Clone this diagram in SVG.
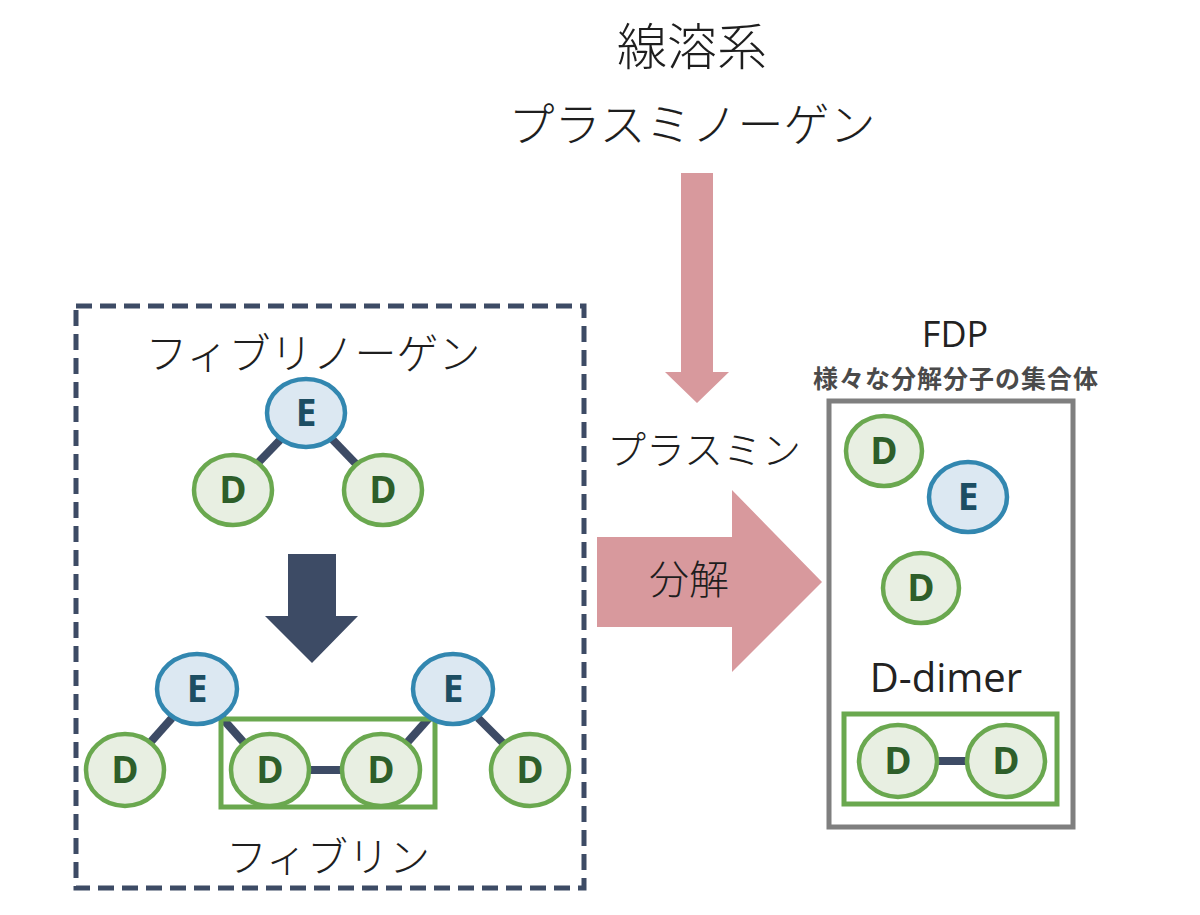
<svg xmlns="http://www.w3.org/2000/svg" width="1200" height="915" viewBox="0 0 1200 915">
<defs>
<style>
.jp{font-family:"Noto Sans CJK JP","Noto Sans",sans-serif;font-weight:300;fill:#1e1e1e;text-anchor:middle;}
.lat{font-family:"Open Sans","Noto Sans",sans-serif;fill:#222;text-anchor:middle;}
.dn ellipse{fill:#e8efe2;stroke:#6aa84f;stroke-width:4.5;}
.en ellipse{fill:#dce8f2;stroke:#3287b0;stroke-width:4.5;}
.dn text{font-family:"Open Sans","Noto Sans",sans-serif;font-weight:bold;font-size:37px;fill:#2e5e2a;text-anchor:middle;}
.en text{font-family:"Open Sans","Noto Sans",sans-serif;font-weight:bold;font-size:37px;fill:#1d4e63;text-anchor:middle;}
.link{stroke:#3d4b65;stroke-width:8;fill:none;}
.pink{fill:#d8999d;}
.grn{fill:none;stroke:#6aa84f;stroke-width:5;}
</style>
</defs>
<rect x="0" y="0" width="1200" height="915" fill="#ffffff"/>

<!-- titles -->
<g id="title">
<text class="jp" x="692" y="65" font-size="50">線溶系</text>
<text class="jp" x="692" y="141" font-size="46">プラスミノーゲン</text>
</g>

<!-- connectors -->
<g id="connectors">
<polygon id="plasmin-arrow" class="pink" points="681,173 713,173 713,372 729,372 697,403 665,372 681,372"/>
<polygon id="decomp-arrow" class="pink" points="597,537 732,537 732,490 822,582 732,672 732,627 597,627"/>
<rect x="597" y="408" width="233" height="76" fill="#ffffff"/>
<polygon points="300,554 336,554 336,616 358,616 312,663 265,616 288,616 288,554" fill="#3d4b65"/>
<line class="link" x1="281" y1="439" x2="256" y2="465"/>
<line class="link" x1="332" y1="439" x2="357" y2="465"/>
<line class="link" x1="172" y1="718" x2="148" y2="745"/>
<line class="link" x1="222" y1="718" x2="246" y2="745"/>
<line class="link" x1="308" y1="770" x2="343" y2="770"/>
<line class="link" x1="429" y1="718" x2="405" y2="745"/>
<line class="link" x1="478" y1="718" x2="505" y2="745"/>
<line class="link" x1="937" y1="761" x2="968" y2="761"/>
</g>

<!-- left group -->
<g id="fibrin-box">
<rect x="76" y="306" width="508" height="582" fill="none" stroke="#3d4b65" stroke-width="5" stroke-dasharray="16,8"/>
<text class="jp" x="313" y="369" font-size="42">フィブリノーゲン</text>
<text class="jp" x="328" y="872" font-size="41">フィブリン</text>
<rect class="grn" x="221" y="719" width="214" height="88"/>
</g>

<g id="fg-E" class="en"><ellipse cx="306" cy="413" rx="39" ry="34"/><text x="306" y="426">E</text></g>
<g id="fg-D1" class="dn"><ellipse cx="233" cy="490" rx="39" ry="35"/><text x="233" y="503">D</text></g>
<g id="fg-D2" class="dn"><ellipse cx="383" cy="490" rx="39" ry="35"/><text x="383" y="503">D</text></g>

<g id="fb-E1" class="en"><ellipse cx="197" cy="689" rx="40" ry="35"/><text x="197" y="702">E</text></g>
<g id="fb-E2" class="en"><ellipse cx="453" cy="689" rx="40" ry="35"/><text x="453" y="702">E</text></g>
<g id="fb-D1" class="dn"><ellipse cx="125" cy="770" rx="39" ry="36"/><text x="125" y="783">D</text></g>
<g id="fb-D2" class="dn"><ellipse cx="270" cy="770" rx="39" ry="36"/><text x="270" y="783">D</text></g>
<g id="fb-D3" class="dn"><ellipse cx="381" cy="770" rx="39" ry="36"/><text x="381" y="783">D</text></g>
<g id="fb-D4" class="dn"><ellipse cx="530" cy="770" rx="39" ry="36"/><text x="530" y="783">D</text></g>

<!-- middle labels -->
<g id="plasmin-label"><text class="jp" x="704" y="464" font-size="39">プラスミン</text></g>
<g id="decomp-label"><text class="jp" x="689" y="594" font-size="40">分解</text></g>

<!-- right group -->
<g id="fdp">
<text class="lat" x="955" y="347" font-size="36">FDP</text>
<text class="jp" x="956" y="388" font-size="25" style="fill:#4a4a4a;font-weight:bold;letter-spacing:1px">様々な分解分子の集合体</text>
<rect x="829" y="401" width="244" height="426" fill="none" stroke="#7f7f7f" stroke-width="5"/>
<text class="lat" x="946" y="692" font-size="40">D-dimer</text>
<rect class="grn" x="844" y="714" width="213" height="90"/>
</g>
<g id="fdp-D1" class="dn"><ellipse cx="884" cy="451" rx="38" ry="35"/><text x="884" y="464">D</text></g>
<g id="fdp-E" class="en"><ellipse cx="968" cy="497" rx="39" ry="35"/><text x="968" y="510">E</text></g>
<g id="fdp-D2" class="dn"><ellipse cx="921" cy="588" rx="38" ry="35"/><text x="921" y="601">D</text></g>
<g id="dd-D1" class="dn"><ellipse cx="898" cy="761" rx="39" ry="36"/><text x="898" y="774">D</text></g>
<g id="dd-D2" class="dn"><ellipse cx="1006" cy="761" rx="39" ry="36"/><text x="1006" y="774">D</text></g>
</svg>
